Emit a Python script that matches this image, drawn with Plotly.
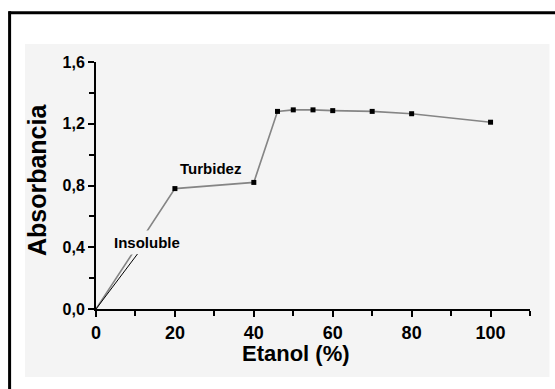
import plotly.graph_objects as go

# Data
etanol = [0, 20, 40, 46, 50, 55, 60, 70, 80, 100]
absorbancia = [0.0, 0.78, 0.82, 1.28, 1.29, 1.29, 1.285, 1.28, 1.265, 1.21]
x_ticks = [0, 20, 40, 60, 80, 100]
y_ticks = [0.0, 0.4, 0.8, 1.2, 1.6]

FONT = "Arial, Liberation Sans, sans-serif"
PANEL = "#f4f4f4"

fig = go.Figure()
fig.add_trace(go.Scatter(
    x=etanol, y=absorbancia, mode="lines",
    line=dict(color="#858585", width=1.6), hoverinfo="skip", showlegend=False,
))
fig.add_trace(go.Scatter(
    x=etanol[1:], y=absorbancia[1:], mode="markers",
    marker=dict(symbol="square", size=5, color="black"), showlegend=False,
))

# plot area geometry (px)
L, R, T, B = 96, 24.5, 62, 80
W, H = 555, 389
pw, ph = W - L - R, H - T - B

def px(xp):
    return (xp - L) / pw

def py(yp):
    return (H - B - yp) / ph

shapes = [
    dict(type="rect", xref="paper", yref="paper", x0=px(25), x1=px(550), y0=py(377), y1=py(44),
         fillcolor=PANEL, line=dict(width=0), layer="below"),
    dict(type="line", xref="paper", yref="paper", x0=px(8.5), x1=px(570), y0=py(12.7), y1=py(12.7),
         line=dict(color="black", width=3)),
    dict(type="line", xref="paper", yref="paper", x0=px(9.5), x1=px(9.5), y0=py(11.3), y1=py(400),
         line=dict(color="black", width=3)),
]

annotations = [
    dict(x=29.1, y=0.907, xref="x", yref="y", text="<b>Turbidez</b>", showarrow=False,
         font=dict(family=FONT, size=15, color="black")),
    dict(x=0, y=0, xref="x", yref="y", ax=12.8, ay=0.434, axref="x", ayref="y",
         text="<b>Insoluble</b>", showarrow=True, arrowhead=0, arrowwidth=1, arrowcolor="black",
         bgcolor=PANEL, borderpad=3,
         font=dict(family=FONT, size=15, color="black")),
    # axis titles
    dict(x=px(296), y=py(353), xref="paper", yref="paper", xanchor="center", yanchor="middle",
         text="<b>Etanol (%)</b>", showarrow=False, font=dict(family=FONT, size=22, color="black")),
    dict(x=px(37), y=py(180), xref="paper", yref="paper", xanchor="center", yanchor="middle",
         text="<b>Absorbancia</b>", textangle=-90, showarrow=False,
         font=dict(family=FONT, size=25, color="black")),
]

fig.update_layout(
    width=W, height=H,
    margin=dict(l=L, r=R, t=T, b=B, pad=0),
    paper_bgcolor="white", plot_bgcolor="rgba(0,0,0,0)",
    separators=",.",
    shapes=shapes, annotations=annotations,
    showlegend=False,
    xaxis=dict(
        range=[0, 110], tickvals=x_ticks, ticktext=[str(v) for v in x_ticks],
        showline=True, linecolor="black", linewidth=2, showgrid=False, zeroline=False,
        ticks="outside", ticklen=6, tickwidth=2, tickcolor="black",
        minor=dict(dtick=10, tick0=0, ticks="outside", ticklen=5, tickwidth=1.5, tickcolor="black"),
        tickfont=dict(family=FONT, size=18, color="black", weight="bold"),
        automargin=False, fixedrange=True,
    ),
    yaxis=dict(
        range=[0, 1.6], tickvals=y_ticks, tickformat=".1f",
        showline=True, linecolor="black", linewidth=2, showgrid=False, zeroline=False,
        ticks="outside", ticklen=6, tickwidth=2, tickcolor="black",
        minor=dict(dtick=0.2, tick0=0, ticks="outside", ticklen=5, tickwidth=1.5, tickcolor="black"),
        tickfont=dict(family=FONT, size=16, color="black", weight="bold"),
        automargin=False, fixedrange=True,
    ),
)

fig.write_html("out.html", config=dict(displayModeBar=False))
